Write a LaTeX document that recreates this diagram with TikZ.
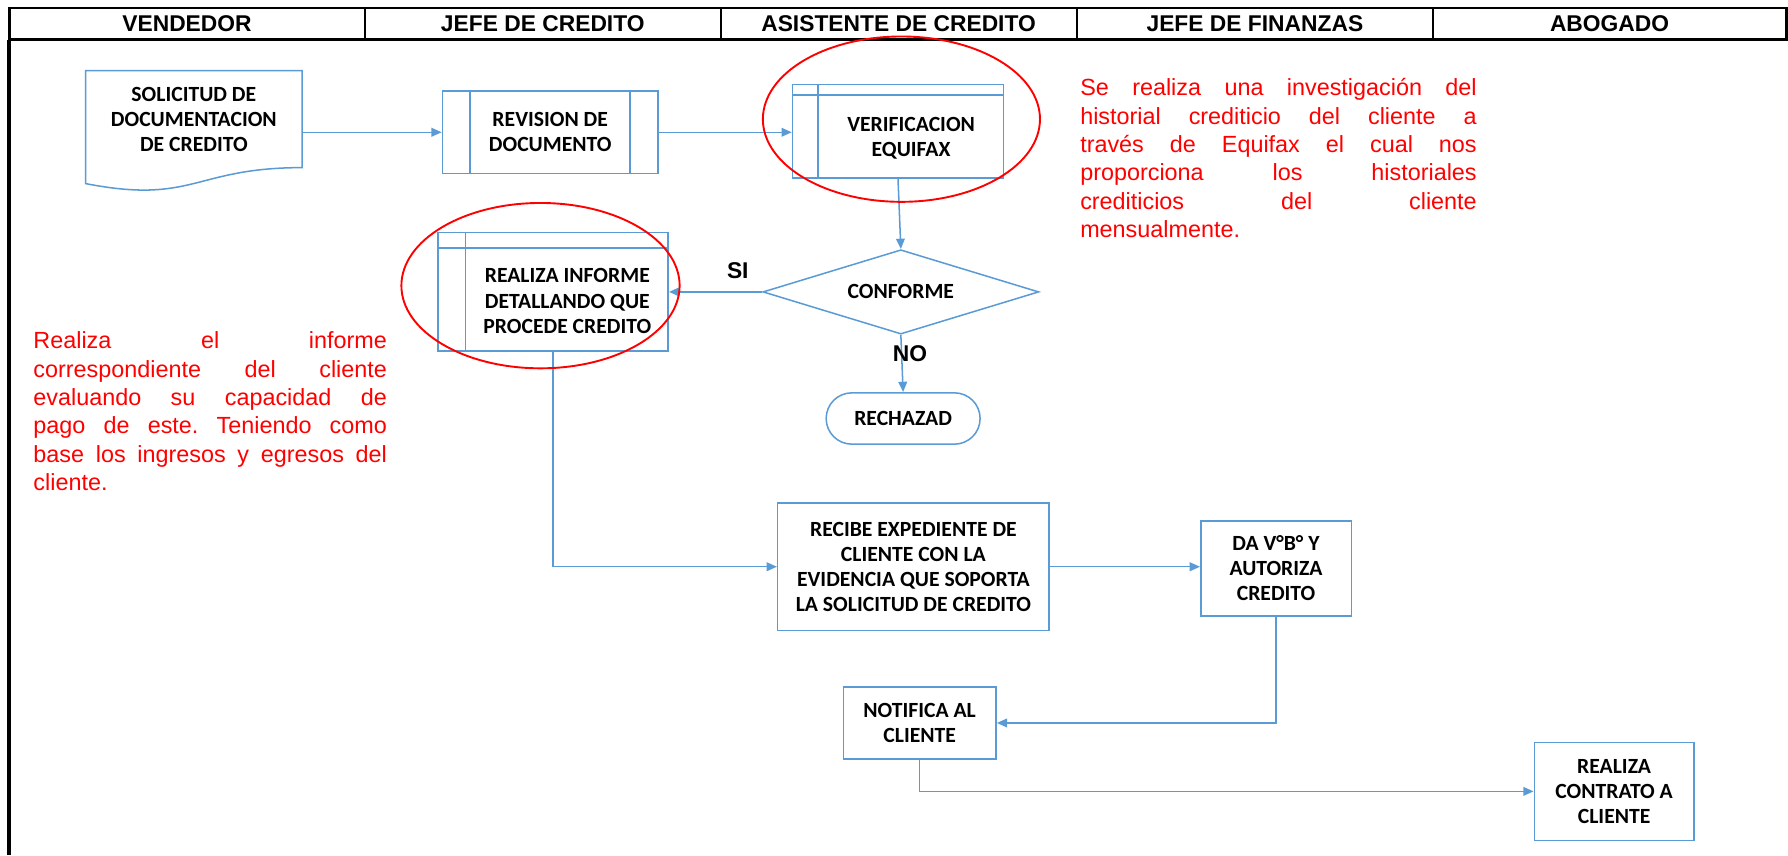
\documentclass[tikz,border=0pt]{standalone}
\usepackage{fontspec}
\setmainfont{Liberation Sans}
\newfontfamily\boxfont{Carlito}
\usetikzlibrary{arrows.meta,shapes.geometric,calc}
\definecolor{flow}{HTML}{5B9BD5}
\definecolor{note}{HTML}{FF0000}
\newcommand\pxu{0.6pt}
\frenchspacing
\begin{document}
\begin{tikzpicture}[x=0.6pt,y=-0.6pt,
  flowline/.style={draw=flow, line width=0.8pt},
  flowbox/.style={draw=flow, line width=0.8pt, inner sep=0pt},
  btext/.style={font=\boxfont\bfseries\fontsize{11.4}{13.2}\selectfont, align=center, inner sep=0pt},
  conn/.style={draw=flow, line width=0.8pt, -{Triangle[length=5.4pt,width=4.6pt]}},
  hdr/.style={font=\bfseries\fontsize{12}{14}\selectfont, inner sep=0pt},
  lbl/.style={font=\bfseries\fontsize{12}{14}\selectfont, inner sep=0pt},
  noteoval/.style={draw=note, line width=1pt, ellipse, inner sep=0pt},
  notetext/.style={text=note, font=\fontsize{12.3}{14.9}\selectfont\frenchspacing, inner sep=0pt, anchor=base west}]
\useasboundingbox (0,0) rectangle (1568,750);

% table header
\draw[line width=1.5pt] (8,7) rectangle (1566.5,35);
\foreach \xx in {320,632,944.5,1256.5} \draw[line width=0.9pt] (\xx,7) -- (\xx,35);
\draw[line width=2pt] (8,35) -- (8,750);
\node[hdr] (h1) at (164,21) {VENDEDOR};
\node[hdr] (h2) at (476,21) {JEFE DE CREDITO};
\node[hdr] (h3) at (788,21) {ASISTENTE DE CREDITO};
\node[hdr] (h4) at (1100.5,21) {JEFE DE FINANZAS};
\node[hdr] (h5) at (1411.5,21) {ABOGADO};

% document shape
\draw[flowline] (75,62) -- (265,62) -- (265,147) .. controls (170,147) and (170,179.5) .. (75,161) -- cycle;
\node[btext, minimum width=190*\pxu, minimum height=85*\pxu] (doc) at (170,104.5) {SOLICITUD DE\\DOCUMENTACION\\DE CREDITO};

% revision
\node[flowbox, btext, minimum width=189*\pxu, minimum height=72*\pxu] (rev) at (482.5,116) {REVISION DE\\DOCUMENTO};
\draw[flowline] ([xshift=25*\pxu]rev.north west) -- ([xshift=25*\pxu]rev.south west);
\draw[flowline] ([xshift=-25*\pxu]rev.north east) -- ([xshift=-25*\pxu]rev.south east);

% verificacion
\node[flowbox, minimum width=185*\pxu, minimum height=82*\pxu] (ver) at (787.5,115) {};
\draw[flowline] ([yshift=-10*\pxu]ver.north west) -- ([yshift=-10*\pxu]ver.north east);
\draw[flowline] ([xshift=23*\pxu]ver.north west) -- ([xshift=23*\pxu]ver.south west);
\node[btext] (vertxt) at (799,121) {VERIFICACION\\EQUIFAX};

% decision
\node[flowbox, diamond, aspect=3.27, minimum width=242*\pxu, minimum height=74*\pxu, btext] (dia) at (790,256) {CONFORME};

% realiza informe
\node[flowbox, minimum width=202*\pxu, minimum height=104*\pxu] (rea) at (485,256) {};
\draw[flowline] ([yshift=-14*\pxu]rea.north west) -- ([yshift=-14*\pxu]rea.north east);
\draw[flowline] ([xshift=25*\pxu]rea.north west) -- ([xshift=25*\pxu]rea.south west);
\node[btext] (reatxt) at (497.5,264) {REALIZA INFORME\\DETALLANDO QUE\\PROCEDE CREDITO};

% rechazad
\node[flowbox, btext, rounded corners=13.5pt, minimum width=135*\pxu, minimum height=45*\pxu] (rech) at (792,367) {RECHAZAD};

% lower boxes
\node[flowbox, btext, minimum width=238*\pxu, minimum height=112*\pxu] (rec) at (801,497) {RECIBE EXPEDIENTE DE\\CLIENTE CON LA\\EVIDENCIA QUE SOPORTA\\LA SOLICITUD DE CREDITO};
\node[flowbox, btext, minimum width=132*\pxu, minimum height=83*\pxu] (da) at (1119,498.5) {DA V°B° Y\\AUTORIZA\\CREDITO};
\node[flowbox, btext, minimum width=134*\pxu, minimum height=63*\pxu] (notif) at (806.5,634) {NOTIFICA AL\\CLIENTE};
\node[flowbox, btext, minimum width=140*\pxu, minimum height=86*\pxu] (contr) at (1415.5,694) {REALIZA\\CONTRATO A\\CLIENTE};

% connectors
\draw[conn] (rev.west -| doc.east) -- (rev.west);
\draw[conn] (rev.east) -- (rev.east -| ver.west);
\draw[conn] (ver.south) -- (dia.north);
\draw[conn] (dia.west) -- (dia.west -| rea.east);
\draw[conn] (dia.south) -- (rech.north);
\draw[conn] (rea.south) |- (rec.west);
\draw[conn] (rec.east) -- (rec.east -| da.west);
\draw[conn] (da.south) |- (notif.east);
\draw[conn] (notif.south) |- (contr.west);

\node[lbl] (si) at (647,237) {SI};
\node[lbl] (no) at (798,310) {NO};

% red highlight ovals
\node[noteoval, minimum width=243*\pxu, minimum height=145*\pxu] (ov1) at (790.5,104.5) {};
\node[noteoval, minimum width=244*\pxu, minimum height=145*\pxu] (ov2) at (474,250.5) {};

% red notes
\node[notetext] (noteR) at (947,84) {\vtop{%
  \hbox to 208.6pt{Se realiza una investigación del}
  \hbox to 208.6pt{historial crediticio del cliente a}
  \hbox to 208.6pt{través de Equifax el cual nos}
  \hbox to 208.6pt{proporciona los historiales}
  \hbox to 208.6pt{crediticios del cliente}
  \hbox{mensualmente.}}};
\node[notetext] (noteL) at (29,306) {\vtop{%
  \hbox to 186pt{Realiza el informe}
  \hbox to 186pt{correspondiente del cliente}
  \hbox to 186pt{evaluando su capacidad de}
  \hbox to 186pt{pago de este. Teniendo como}
  \hbox to 186pt{base los ingresos y egresos del}
  \hbox{cliente.}}};
\end{tikzpicture}
\end{document}
